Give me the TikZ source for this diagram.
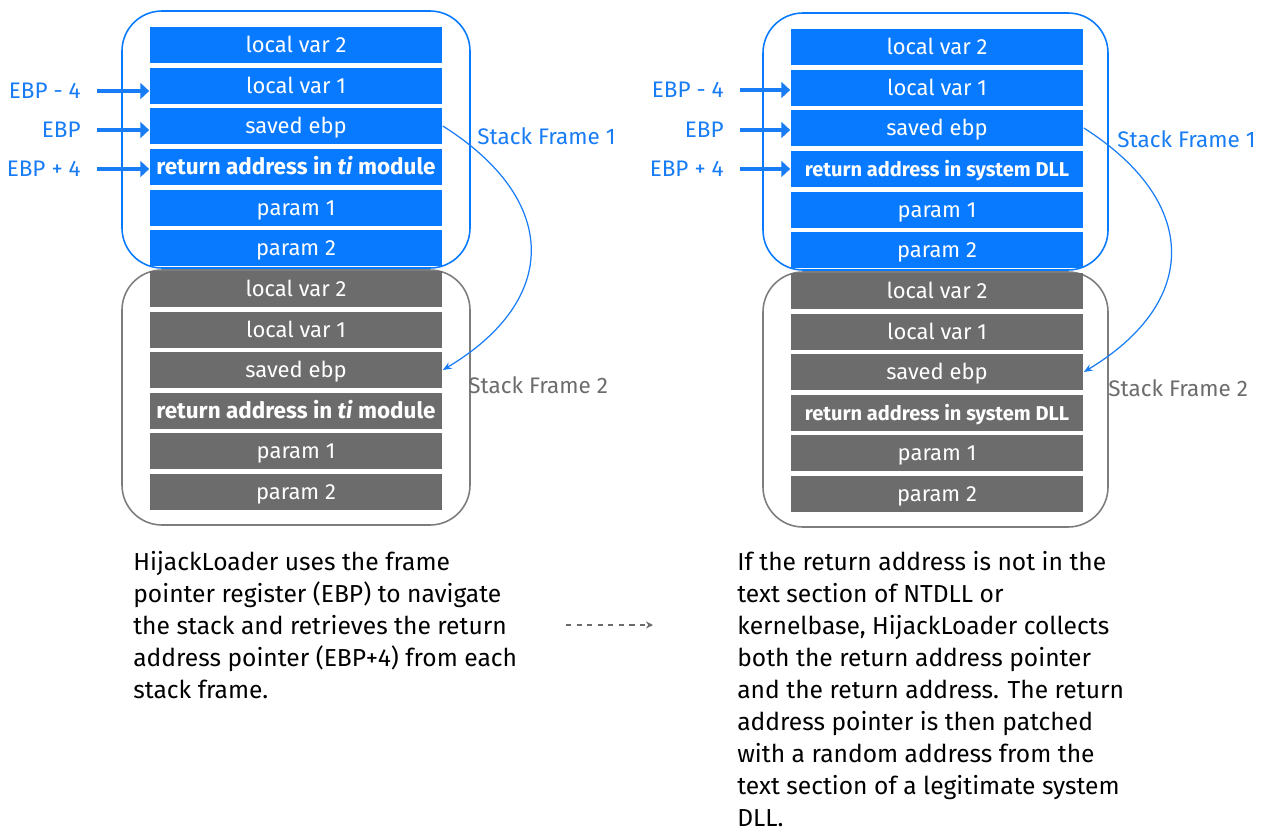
\documentclass[tikz,border=0pt]{standalone}
\usepackage{fontspec}
\setmainfont{Fira Sans}
\usetikzlibrary{arrows.meta, positioning, calc}
\definecolor{stackblue}{RGB}{8, 122, 255}
\definecolor{stackgray}{RGB}{108, 108, 108}
\definecolor{framegray}{RGB}{125, 125, 125}
\definecolor{ptrblue}{RGB}{24, 124, 245}

\begin{document}
\begin{tikzpicture}[x=0.02cm, y=-0.02cm,
    slot/.style={rectangle, minimum width=5.86cm, minimum height=0.72cm, inner sep=0pt,
                 text height=9.8pt, text depth=1.4pt,
                 text=white, font=\fontsize{12.5}{14}\selectfont},
    blueslot/.style={slot, fill=stackblue},
    grayslot/.style={slot, fill=stackgray},
    frame/.style={rounded corners=0.8cm, line width=0.9pt},
    reg/.style={font=\fontsize{12.8}{14}\selectfont, text=ptrblue, anchor=east, inner sep=0pt},
    ptr/.style={line width=1.8pt, ptrblue, shorten <=0.32cm, -{Triangle[length=5pt,width=9pt]}},
    link/.style={ptrblue, line width=0.7pt, -{Stealth[length=5pt,width=4pt]}},
    tag/.style={font=\fontsize{12.8}{14}\selectfont, anchor=west, inner sep=0pt},
    note/.style={font=\fontsize{14}{18.2}\selectfont, anchor=north west, align=left, inner sep=0pt}
]
\useasboundingbox (0,0) rectangle (1268,832);

% Frames (behind the slots)
\draw[frame, stackblue] (122,11) rectangle (470,268);
\draw[frame, framegray] (122,270) rectangle (470,525);
\draw[frame, stackblue] (763,13) rectangle (1108,270);
\draw[frame, framegray] (763,272) rectangle (1108,527);

% Left stack - frame 1
\node[blueslot] (la1) at (296,45) {local var 2};
\node[blueslot] (la2) at (296,86) {local var 1};
\node[blueslot] (la3) at (296,126) {saved ebp};
\node[blueslot, font=\fontsize{12.8}{14}\selectfont\bfseries] (la4) at (296,167) {return address in \textit{ti} module};
\node[blueslot] (la5) at (296,208) {param 1};
\node[blueslot] (la6) at (296,248) {param 2};

% Left stack - frame 2
\node[grayslot] (lb1) at (296,289) {local var 2};
\node[grayslot] (lb2) at (296,330) {local var 1};
\node[grayslot] (lb3) at (296,370) {saved ebp};
\node[grayslot, font=\fontsize{12.8}{14}\selectfont\bfseries] (lb4) at (296,411) {return address in \textit{ti} module};
\node[grayslot] (lb5) at (296,451) {param 1};
\node[grayslot] (lb6) at (296,492) {param 2};

% Right stack - frame 1
\node[blueslot] (ra1) at (937,47) {local var 2};
\node[blueslot] (ra2) at (937,88) {local var 1};
\node[blueslot] (ra3) at (937,128) {saved ebp};
\node[blueslot, font=\fontsize{11.4}{13}\selectfont\bfseries] (ra4) at (937,169) {return address in system DLL};
\node[blueslot] (ra5) at (937,210) {param 1};
\node[blueslot] (ra6) at (937,250) {param 2};

% Right stack - frame 2
\node[grayslot] (rb1) at (937,291) {local var 2};
\node[grayslot] (rb2) at (937,332) {local var 1};
\node[grayslot] (rb3) at (937,372) {saved ebp};
\node[grayslot, font=\fontsize{11.4}{13}\selectfont\bfseries] (rb4) at (937,413) {return address in system DLL};
\node[grayslot] (rb5) at (937,453) {param 1};
\node[grayslot] (rb6) at (937,494) {param 2};

% Register pointers
\node[reg] (lm4) at (81,91) {EBP - 4};
\node[reg] (lbp) at (81,130) {EBP};
\node[reg] (lp4) at (81,169) {EBP + 4};
\draw[ptr] (lm4.east) -- (lm4.east -| la2.west);
\draw[ptr] (lbp.east) -- (lbp.east -| la3.west);
\draw[ptr] (lp4.east) -- (lp4.east -| la4.west);

\node[reg] (rm4) at (724,90) {EBP - 4};
\node[reg] (rbp) at (724,130) {EBP};
\node[reg] (rp4) at (724,169) {EBP + 4};
\draw[ptr] (rm4.east) -- (rm4.east -| ra2.west);
\draw[ptr] (rbp.east) -- (rbp.east -| ra3.west);
\draw[ptr] (rp4.east) -- (rp4.east -| ra4.west);

% Frame tags
\node[tag, text=ptrblue] (ltag1) at (477,136) {Stack Frame 1};
\node[tag, text=stackgray] (ltag2) at (468,385) {Stack Frame 2};
\node[tag, text=ptrblue] (rtag1) at (1117,139) {Stack Frame 1};
\node[tag, text=stackgray] (rtag2) at (1108,388) {Stack Frame 2};

% Saved ebp chain
\draw[link] (la3.east) .. controls (560,200) and (560,300) .. (lb3.east);
\draw[link] (ra3.east) .. controls (1200,202) and (1200,302) .. (rb3.east);

% Notes
\node[note] (lnote) at (133,551) {HijackLoader uses the frame\\pointer register (EBP) to navigate\\the stack and retrieves the return\\address pointer (EBP+4) from each\\stack frame.};
\node[note] (rnote) at (737,551) {If the return address is not in the\\text section of NTDLL or\\kernelbase, HijackLoader collects\\both the return address pointer\\and the return address. The return\\address pointer is then patched\\with a random address from the\\text section of a legitimate system\\DLL.};

\coordinate (stepA) at (566,625);
\coordinate (stepB) at (653,625);
\draw[dashed, stackgray, line width=0.6pt, -{Stealth[length=4pt,width=4pt]}] (stepA) -- (stepB);

\end{tikzpicture}
\end{document}
